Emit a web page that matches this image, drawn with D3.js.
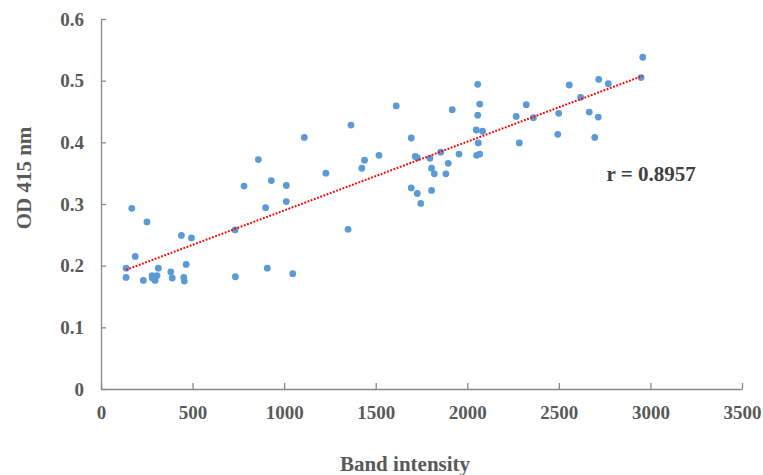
<!DOCTYPE html>
<html>
<head>
<meta charset="utf-8">
<script src="https://cdn.jsdelivr.net/npm/d3@7"></script>
<style>
  body { margin: 0; background: #fff; }
  svg { display: block; }
  .axis path, .axis line { stroke: #898989; stroke-width: 1.3; }
  .axis text { font-family: 'Liberation Serif', 'Times New Roman', serif; font-weight: bold; font-size: 19px; fill: #595959; }
  .label { font-family: 'Liberation Serif', 'Times New Roman', serif; font-weight: bold; font-size: 21px; fill: #595959; }
  .note { font-family: 'Liberation Serif', 'Times New Roman', serif; font-weight: bold; font-size: 21px; fill: #404040; }
</style>
</head>
<body>
<svg></svg>
<script>
// band intensity vs OD 415 nm
const bandIntensity = [
  168, 251, 187, 137, 137, 231, 313, 279, 306, 280, 295, 381, 389, 452, 455, 465,
  439, 494, 732, 734, 781, 930, 1012, 899, 1012, 908, 1047, 1349, 1228, 1424,
  1694, 1727, 1805, 1746, 1805, 1820, 1883, 1896, 1110, 1365, 1612, 1918, 1694,
  1518, 1439, 859, 1716, 1727, 1796, 1855, 1955, 2057, 2068, 2057, 2049, 2083,
  2060, 2051, 2068, 2267, 2322, 2361, 2284, 2494, 2499, 2557, 2619, 2666, 2715,
  2696, 2718, 2770, 2949, 2958
];
const od415 = [
  0.293, 0.271, 0.215, 0.196, 0.181, 0.176, 0.196, 0.184, 0.184, 0.180, 0.176, 0.190,
  0.180, 0.181, 0.175, 0.202, 0.249, 0.245, 0.258, 0.182, 0.329, 0.338, 0.330, 0.294,
  0.304, 0.196, 0.187, 0.259, 0.350, 0.358, 0.326, 0.317, 0.322, 0.301, 0.358, 0.349,
  0.349, 0.366, 0.408, 0.428, 0.459, 0.453, 0.407, 0.379, 0.371, 0.372, 0.377, 0.375,
  0.374, 0.384, 0.381, 0.494, 0.462, 0.444, 0.420, 0.418, 0.399, 0.379, 0.381, 0.442,
  0.461, 0.440, 0.399, 0.413, 0.447, 0.493, 0.473, 0.449, 0.441, 0.408, 0.502, 0.495,
  0.505, 0.538
];
const xTicks = [0, 500, 1000, 1500, 2000, 2500, 3000, 3500];
const yTicks = [0, 0.1, 0.2, 0.3, 0.4, 0.5, 0.6];
const rLabel = 'r = 0.8957';

const points = bandIntensity.map((b, i) => ({ x: b, y: od415[i] }));

const margin = { top: 19, right: 21, bottom: 86, left: 101 };
const width = 763 - margin.left - margin.right;
const height = 475 - margin.top - margin.bottom;

const x = d3.scaleLinear().domain([0, 3500]).range([0, width]);
const y = d3.scaleLinear().domain([0, 0.6]).range([height, 0]);

const svg = d3.select('svg')
  .attr('width', 763)
  .attr('height', 475)
  .append('g')
  .attr('transform', `translate(${margin.left}, ${margin.top})`);

// axes, ticks point inwards like the excel chart
svg.append('g')
  .attr('class', 'axis')
  .attr('transform', `translate(0, ${height})`)
  .call(d3.axisBottom(x).tickValues(xTicks).tickSize(-6).tickSizeOuter(0).tickPadding(17).tickFormat(d3.format('d')));

svg.append('g')
  .attr('class', 'axis')
  .call(d3.axisLeft(y).tickValues(yTicks).tickSize(-5).tickSizeOuter(0).tickPadding(17)
    .tickFormat(d => d === 0 ? '0' : d3.format('.1f')(d)));

// least squares trend line
const mx = d3.mean(points, d => d.x);
const my = d3.mean(points, d => d.y);
const slope = d3.sum(points, d => (d.x - mx) * (d.y - my)) / d3.sum(points, d => (d.x - mx) ** 2);
const intercept = my - slope * mx;
const xExtent = d3.extent(points, d => d.x);
const trend = xExtent.map(v => ({ x: v, y: intercept + slope * v }));

svg.selectAll('.dot')
  .data(points)
  .enter()
  .append('circle')
  .attr('class', 'dot')
  .attr('r', 3.4)
  .attr('cx', d => x(d.x))
  .attr('cy', d => y(d.y))
  .attr('fill', '#5b9bd5');

svg.append('path')
  .datum(trend)
  .attr('fill', 'none')
  .attr('stroke', '#ff0000')
  .attr('stroke-width', 2)
  .attr('stroke-dasharray', '1.8,1.6')
  .attr('d', d3.line().x(d => x(d.x)).y(d => y(d.y)));

svg.append('text')
  .attr('class', 'note')
  .attr('x', x(2760))
  .attr('y', y(0.338))
  .text(rLabel);

svg.append('text')
  .attr('class', 'label')
  .attr('x', 304)
  .attr('y', height + 82)
  .style('text-anchor', 'middle')
  .text('Band intensity');

svg.append('text')
  .attr('class', 'label')
  .attr('transform', 'rotate(-90)')
  .attr('x', -(178 - margin.top))
  .attr('y', 31 - margin.left)
  .style('text-anchor', 'middle')
  .text('OD 415 nm');
</script>
</body>
</html>
